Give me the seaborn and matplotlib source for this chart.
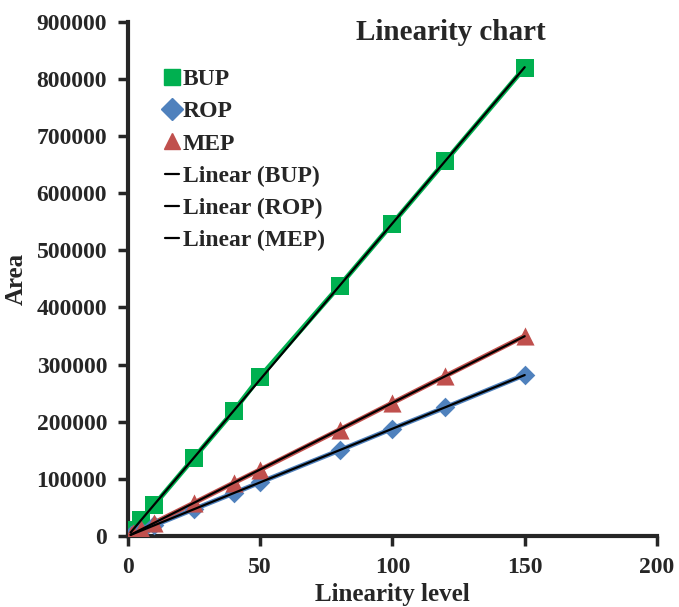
import numpy as np
import pandas as pd
import matplotlib
matplotlib.use("Agg")
import matplotlib.pyplot as plt
from matplotlib.lines import Line2D
import seaborn as sns

# Values
levels = [1, 2, 5, 10, 25, 40, 50, 80, 100, 120, 150]
bup_area = [5500, 11000, 27500, 54800, 137000, 219000, 279000, 438000, 547000, 656000, 820000]
rop_area = [1900, 3800, 9400, 18800, 47000, 75000, 94000, 150000, 188000, 225000, 282000]
mep_area = [2300, 4700, 11700, 23300, 58000, 93000, 116000, 186000, 233000, 280000, 350000]

series_names = ["BUP", "ROP", "MEP"]
series_colors = {"BUP": "#00B050", "ROP": "#4F81BD", "MEP": "#C0504D"}
series_markers = {"BUP": "s", "ROP": "D", "MEP": "^"}
marker_sizes = {"BUP": 170, "ROP": 100, "MEP": 170}

df = pd.DataFrame({
    "level": levels * 3,
    "area": bup_area + rop_area + mep_area,
    "drug": ["BUP"] * len(levels) + ["ROP"] * len(levels) + ["MEP"] * len(levels),
})

sns.set_style("ticks")
plt.rcParams["font.family"] = ["Liberation Serif", "DejaVu Serif"]
plt.rcParams["font.weight"] = "bold"

fig = plt.figure(figsize=(6.79, 6.07), dpi=100)
ax = fig.add_axes([0.1885, 0.117, 0.779, 0.847])

for name in series_names:
    sub = df[df["drug"] == name]
    sns.lineplot(data=sub, x="level", y="area", color=series_colors[name],
                 lw=3.5, ax=ax, legend=False, zorder=2)
    sns.scatterplot(data=sub, x="level", y="area", color=series_colors[name],
                    marker=series_markers[name], s=marker_sizes[name],
                    edgecolor=series_colors[name], linewidth=0, ax=ax,
                    legend=False, zorder=3)
    # linear trendline (fit through the data)
    sns.regplot(data=sub, x="level", y="area", scatter=False, ci=None,
                truncate=True, color="black", line_kws={"lw": 1.6, "zorder": 4},
                ax=ax)

ax.set_xlim(0, 200)
ax.set_ylim(0, 900000)
ax.set_xticks([0, 50, 100, 150, 200])
ax.set_yticks(np.arange(0, 900001, 100000))
ax.tick_params(direction="out", length=7, width=2.5, labelsize=17, pad=8)
for lab in ax.get_xticklabels() + ax.get_yticklabels():
    lab.set_fontweight("bold")
sns.despine(ax=ax)
for side in ["left", "bottom"]:
    ax.spines[side].set_linewidth(3)

ax.set_xlabel("Linearity level", fontsize=18, fontweight="bold", labelpad=4)
ax.set_ylabel("Area", fontsize=18, fontweight="bold", labelpad=6)
ax.text(0.61, 0.979, "Linearity chart", transform=ax.transAxes, ha="center",
        va="center", fontsize=21, fontweight="bold")

handles = []
labels = []
for name in series_names:
    handles.append(Line2D([], [], ls="none", marker=series_markers[name],
                          color=series_colors[name], markersize=11))
    labels.append(name)
for name in series_names:
    handles.append(Line2D([], [], color="black", lw=1.6))
    labels.append(f"Linear ({name})")
ax.legend(handles, labels, loc="upper left", bbox_to_anchor=(0.03, 0.95),
          frameon=False, handlelength=0.6, handletextpad=0.15,
          labelspacing=0.45, prop={"size": 17, "weight": "bold"})

fig.savefig("out.png", dpi=100)
